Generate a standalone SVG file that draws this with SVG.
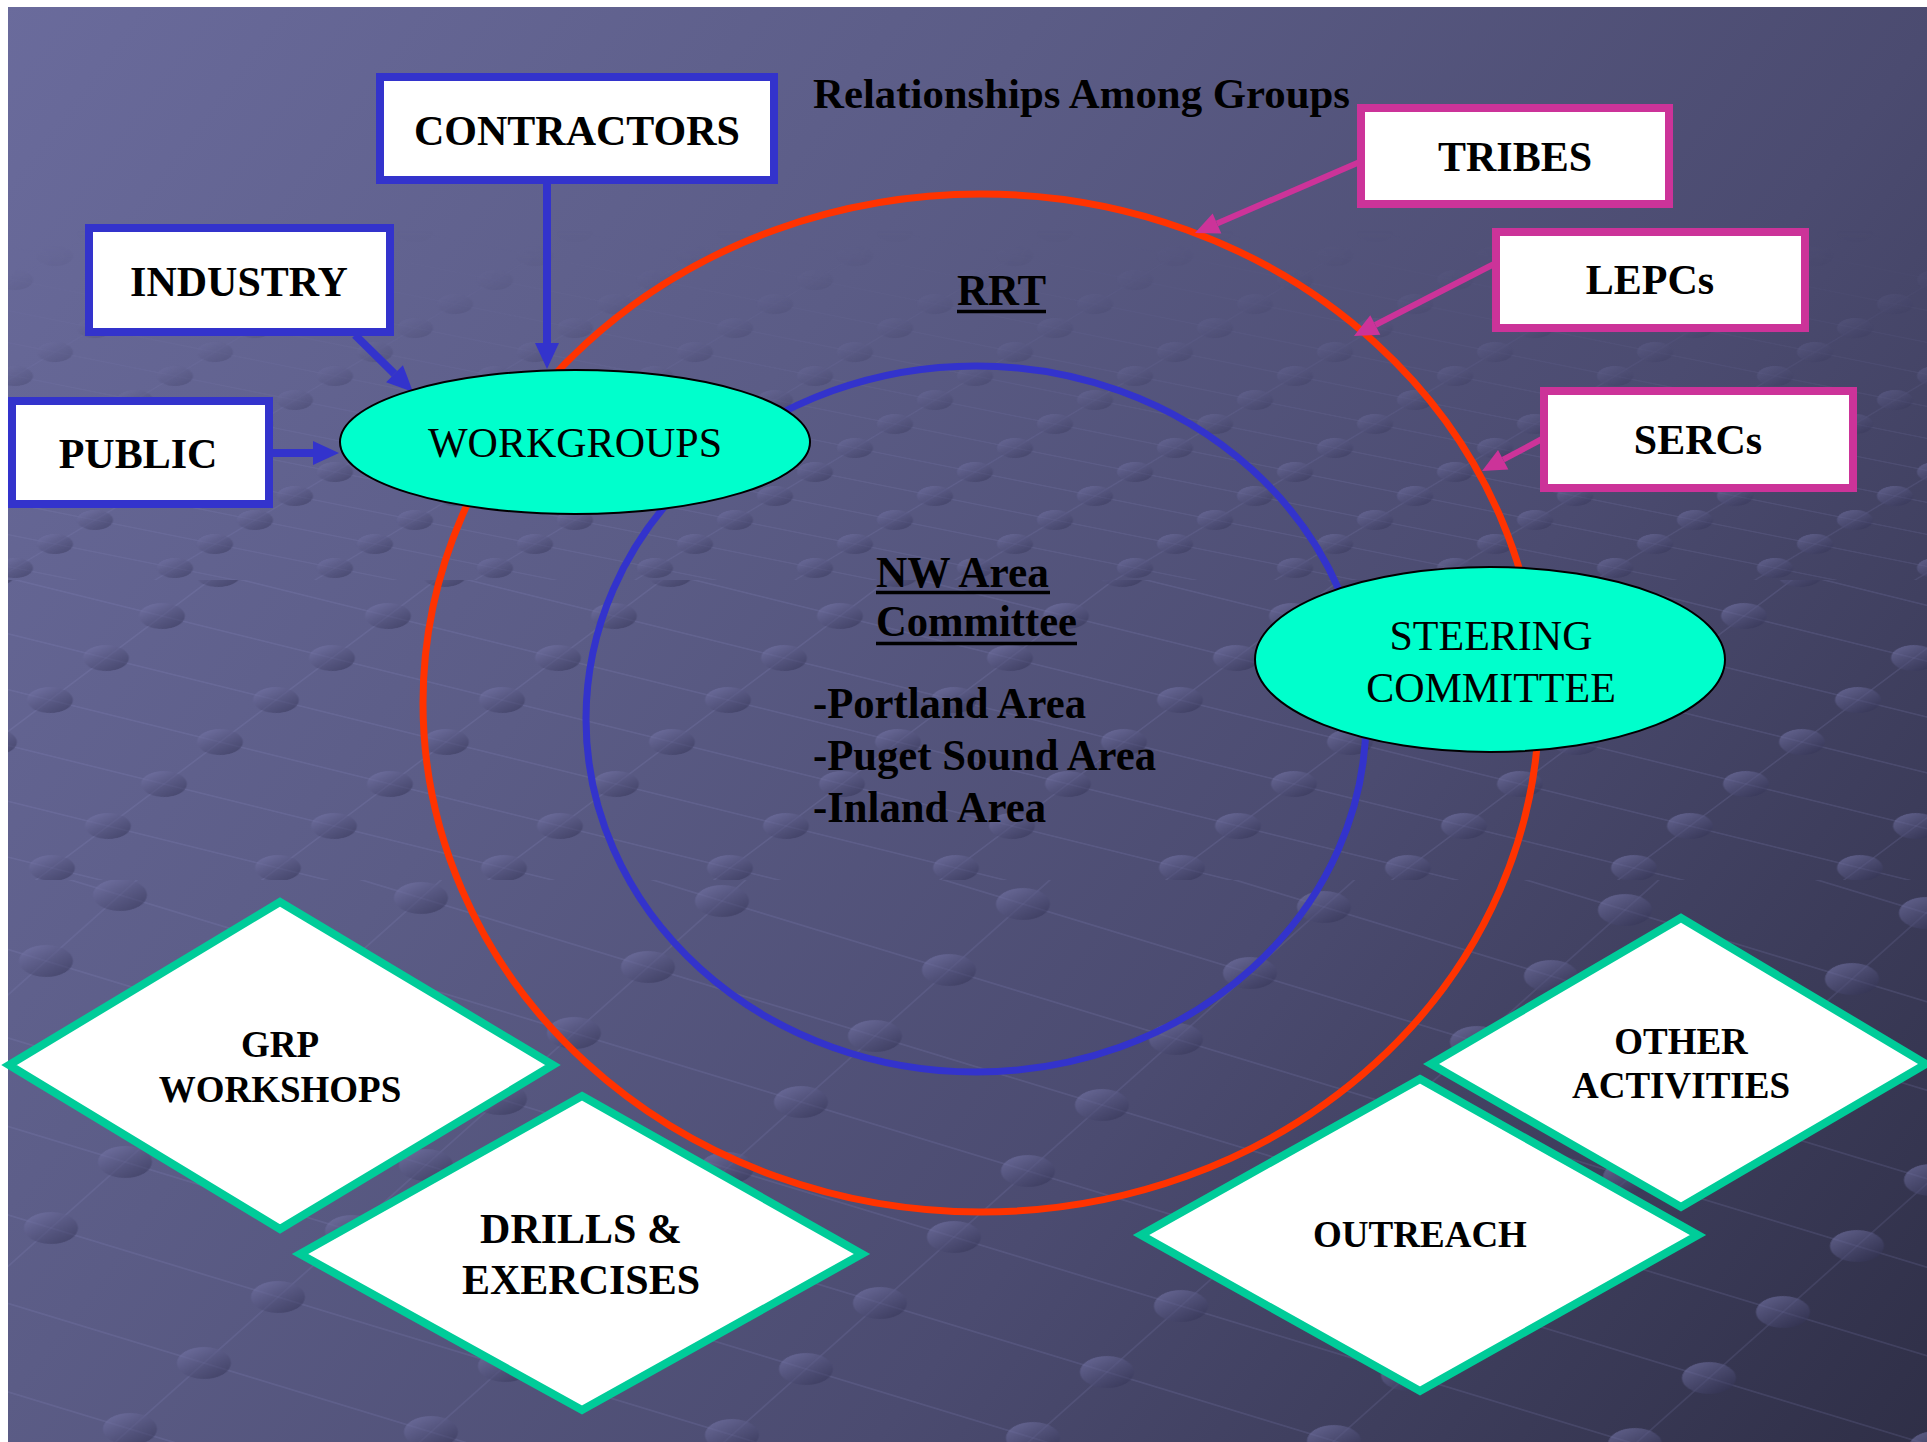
<svg xmlns="http://www.w3.org/2000/svg" xmlns:xlink="http://www.w3.org/1999/xlink" width="1927" height="1442" viewBox="0 0 1927 1442">
<defs>
<style>
.box{fill:#ffffff;stroke-width:8}
.blue{stroke:#3333cc}
.mag{stroke:#cc3399}
.oval{fill:#00ffcc;stroke:#000000;stroke-width:2}
.dia{fill:#ffffff;stroke:#00cc99;stroke-width:8;stroke-linejoin:miter}
.t{font-family:"Liberation Serif","Times New Roman",serif;fill:#000000}
.b{font-weight:bold}
.c{text-anchor:middle}
.f42{font-size:42px}
.f44{font-size:44px}
.f37{font-size:37px}
.gl{fill:none;stroke:#9494cc;stroke-opacity:0.15}
.ul{stroke:#000000;stroke-width:3.5}
.conB{fill:none;stroke:#3333cc;stroke-width:8}
.conM{fill:none;stroke:#cc3399;stroke-width:6}
</style>
<linearGradient id="bg" gradientUnits="userSpaceOnUse" x1="0" y1="0" x2="1927" y2="1442">
<stop offset="0" stop-color="#6a6b9c"/>
<stop offset="0.35" stop-color="#5b5c86"/>
<stop offset="0.65" stop-color="#4b4b70"/>
<stop offset="1" stop-color="#2f2f47"/>
</linearGradient>
<linearGradient id="dotg" x1="0.1" y1="0" x2="0.9" y2="1">
<stop offset="0" stop-color="#7c7cb0" stop-opacity="0.6"/>
<stop offset="1" stop-color="#2c2c4c" stop-opacity="0.5"/>
</linearGradient>
<linearGradient id="fadeG" gradientUnits="userSpaceOnUse" x1="0" y1="230" x2="0" y2="480">
<stop offset="0" stop-color="#ffffff" stop-opacity="0"/>
<stop offset="1" stop-color="#ffffff" stop-opacity="0.85"/>
</linearGradient>
<mask id="fadeA" maskUnits="userSpaceOnUse" x="0" y="0" width="1927" height="1442">
<rect x="0" y="230" width="1927" height="360" fill="url(#fadeG)"/>
</mask>
<ellipse id="dA" rx="18" ry="10" fill="url(#dotg)" transform="matrix(0.625 -0.625 1.0417 3.125 0 0)"/>
<ellipse id="dB" rx="23" ry="13" fill="url(#dotg)" transform="matrix(0.4425 -0.4425 0.59 1.791 0 0)"/>
<ellipse id="dC" rx="27" ry="16" fill="url(#dotg)" transform="matrix(0.3286 -0.3435 0.3684 1.13 0 0)"/>
<pattern id="pA" patternUnits="userSpaceOnUse" width="100" height="100" patternTransform="matrix(1.2 0.24 -0.4 0.24 1055 520)">
<path class="gl" d="M0,0H100M0,100H100" stroke-width="4.5"/>
<path class="gl" d="M0,0V100M100,0V100" stroke-width="1.8"/>
<use href="#dA"/><use href="#dA" x="100"/><use href="#dA" y="100"/><use href="#dA" x="100" y="100"/>
</pattern>
<pattern id="pB" patternUnits="userSpaceOnUse" width="100" height="100" patternTransform="matrix(1.7 0.42 -0.56 0.42 1180 700)">
<path class="gl" d="M0,0H100M0,100H100" stroke-width="2.8"/>
<path class="gl" d="M0,0V100M100,0V100" stroke-width="1.1"/>
<use href="#dB"/><use href="#dB" x="100"/><use href="#dB" y="100"/><use href="#dB" x="100" y="100"/>
</pattern>
<pattern id="pC" patternUnits="userSpaceOnUse" width="100" height="100" patternTransform="matrix(2.27 0.69 -0.74 0.66 1551 976)">
<path class="gl" d="M0,0H100M0,100H100" stroke-width="1.8"/>
<path class="gl" d="M0,0V100M100,0V100" stroke-width="0.75"/>
<use href="#dC"/><use href="#dC" x="100"/><use href="#dC" y="100"/><use href="#dC" x="100" y="100"/>
</pattern>
<marker id="arB" markerUnits="userSpaceOnUse" markerWidth="30" markerHeight="30" viewBox="0 -15 30 30" refX="0" refY="0" orient="auto" overflow="visible">
<path d="M0,-12 L26,0 L0,12 Z" fill="#3333cc"/>
</marker>
<marker id="arM" markerUnits="userSpaceOnUse" markerWidth="30" markerHeight="30" viewBox="0 -15 30 30" refX="0" refY="0" orient="auto" overflow="visible">
<path d="M0,-11 L24,0 L0,11 Z" fill="#cc3399"/>
</marker>
</defs>

<rect x="0" y="0" width="1927" height="1442" fill="#ffffff"/>
<rect x="8" y="7" width="1919" height="1435" fill="url(#bg)"/>
<g id="texture">
<rect x="8" y="230" width="1919" height="350" fill="url(#pA)" mask="url(#fadeA)"/>
<rect x="8" y="580" width="1919" height="300" fill="url(#pB)"/>
<rect x="8" y="880" width="1919" height="562" fill="url(#pC)"/>
</g>

<text id="title" class="t b f42" x="813" y="108" textLength="537" lengthAdjust="spacingAndGlyphs">Relationships Among Groups</text>

<g id="rrt">
<ellipse cx="981" cy="703" rx="558" ry="509" fill="none" stroke="#ff3300" stroke-width="7"/>
<text class="t b f44" x="957" y="305" textLength="89" lengthAdjust="spacingAndGlyphs">RRT</text>
<line class="ul" x1="957" y1="311.5" x2="1046" y2="311.5"/>
</g>

<g id="nw-area-committee">
<ellipse cx="976" cy="719" rx="390" ry="353" fill="none" stroke="#3333cc" stroke-width="7"/>
<text class="t b f44" x="876" y="587" textLength="173" lengthAdjust="spacingAndGlyphs">NW Area</text>
<line class="ul" x1="876" y1="592.5" x2="1050" y2="592.5"/>
<text class="t b f44" x="876" y="636" textLength="201" lengthAdjust="spacingAndGlyphs">Committee</text>
<line class="ul" x1="876" y1="643.5" x2="1077" y2="643.5"/>
<text class="t b f44" x="813" y="718" textLength="273" lengthAdjust="spacingAndGlyphs">-Portland Area</text>
<text class="t b f44" x="813" y="770" textLength="343" lengthAdjust="spacingAndGlyphs">-Puget Sound Area</text>
<text class="t b f44" x="813" y="822" textLength="233" lengthAdjust="spacingAndGlyphs">-Inland Area</text>
</g>

<g id="connectors">
<path class="conB" d="M547,184 L547,343" marker-end="url(#arB)"/>
<path class="conB" d="M355,335 L394.5,373.8" marker-end="url(#arB)"/>
<path class="conB" d="M271,453 L313,453" marker-end="url(#arB)"/>
<path class="conM" d="M1362,161 L1217,223.5" marker-end="url(#arM)"/>
<path class="conM" d="M1494,264 L1375.3,325" marker-end="url(#arM)"/>
<path class="conM" d="M1542,439 L1503.2,459.7" marker-end="url(#arM)"/>
</g>

<g id="contractors">
<rect class="box blue" x="380" y="77" width="394" height="103"/>
<text class="t b c f42" x="577" y="145">CONTRACTORS</text>
</g>
<g id="industry">
<rect class="box blue" x="89" y="228" width="301" height="104"/>
<text class="t b c f42" x="239" y="296">INDUSTRY</text>
</g>
<g id="public">
<rect class="box blue" x="12" y="401" width="257" height="103"/>
<text class="t b c f42" x="138" y="468">PUBLIC</text>
</g>
<g id="workgroups">
<ellipse class="oval" cx="575" cy="442" rx="235" ry="72"/>
<text class="t c f42" x="575" y="457">WORKGROUPS</text>
</g>
<g id="tribes">
<rect class="box mag" x="1361" y="108" width="308" height="96"/>
<text class="t b c f42" x="1515" y="171">TRIBES</text>
</g>
<g id="lepcs">
<rect class="box mag" x="1496" y="232" width="309" height="96"/>
<text class="t b c f42" x="1650" y="294">LEPCs</text>
</g>
<g id="sercs">
<rect class="box mag" x="1544" y="391" width="309" height="97"/>
<text class="t b c f42" x="1698" y="454">SERCs</text>
</g>
<g id="steering-committee">
<ellipse class="oval" cx="1490" cy="659.5" rx="235" ry="92.5"/>
<text class="t c f42" x="1491" y="650">STEERING</text>
<text class="t c f42" x="1491" y="702">COMMITTEE</text>
</g>
<g id="grp-workshops">
<polygon class="dia" points="280,902 553,1065 280,1229 9,1065"/>
<text class="t b c f37" x="280" y="1057">GRP</text>
<text class="t b c f37" x="280" y="1102">WORKSHOPS</text>
</g>
<g id="drills-exercises">
<polygon class="dia" points="582,1096 862,1254 582,1410 300,1254"/>
<text class="t b c f42" x="581" y="1243">DRILLS &amp;</text>
<text class="t b c f42" x="581" y="1294">EXERCISES</text>
</g>
<g id="other-activities">
<polygon class="dia" points="1681,918 1926,1064 1681,1207 1431,1064"/>
<text class="t b c f37" x="1681" y="1054">OTHER</text>
<text class="t b c f37" x="1681" y="1098">ACTIVITIES</text>
</g>
<g id="outreach">
<polygon class="dia" points="1420,1079 1698,1235 1420,1391 1141,1235"/>
<text class="t b c f37" x="1420" y="1247">OUTREACH</text>
</g>
</svg>
